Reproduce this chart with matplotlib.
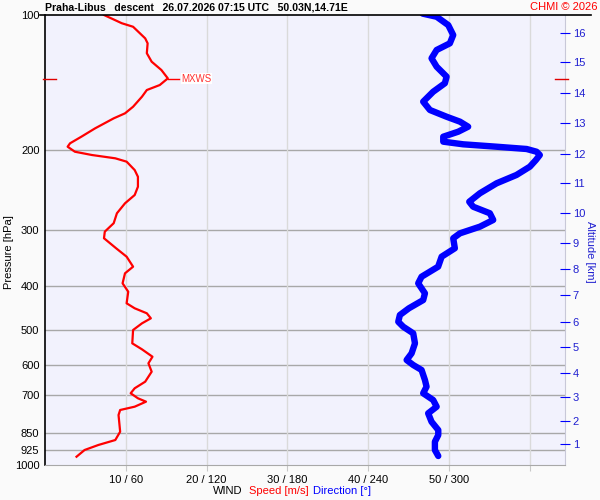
import matplotlib.pyplot as plt
import numpy as np
from matplotlib.lines import Line2D
from matplotlib.ticker import FixedLocator, NullLocator

plt.rcParams["font.family"] = ["Liberation Sans", "DejaVu Sans"]

# wind speed profile: pressure [hPa] and speed [m/s]
speed_p = [100, 104.3, 106.2, 112.7, 115.6, 121.6, 127.0, 132.5, 138.3, 143.1,
           146.8, 151.9, 159.9, 165.4, 169.7, 178.6, 186.4, 192.8, 196.2, 201.3,
           204.7, 208.2, 211.8, 221.1, 228.8, 240.8, 251.2, 262.1, 275.8, 290.2,
           303.0, 313.4, 329.9, 344.4, 362.5, 375.0, 394.7, 412.0, 437.2, 448.5,
           460.1, 472.1, 484.4, 501.2, 536.6, 553.3, 574.6, 594.3, 620.4, 652.9,
           675.3, 692.8, 710.8, 723.2, 742.0, 754.7, 774.3, 807.9, 843.4, 880.0,
           902.7, 926.1, 958.5]
speed = [7.3, 9.5, 10.9, 12.4, 12.7, 12.6, 13.2, 14.4, 15.2, 14.2,
         12.6, 12.0, 10.9, 9.9, 8.5, 6.2, 4.5, 3.1, 2.8, 3.7,
         5.8, 8.7, 10.1, 11.1, 11.5, 11.5, 11.1, 9.9, 8.9, 8.5,
         7.4, 7.3, 8.8, 10.1, 10.9, 9.9, 9.6, 10.3, 10.1, 11.1,
         12.6, 13.1, 12.0, 10.9, 10.8, 12.0, 13.3, 12.8, 13.2, 12.4,
         11.1, 10.6, 11.5, 12.5, 11.1, 9.3, 9.1, 9.2, 9.3, 8.7,
         6.6, 4.9, 3.9]

# wind direction profile: pressure [hPa] and direction [deg]
dir_p = [99.3, 100.9, 105.3, 110.8, 115.6, 119.6, 124.8, 130.3, 137.1, 141.8,
         148.1, 155.8, 162.6, 168.3, 172.6, 177.1, 181.7, 186.4, 191.2, 193.8,
         196.2, 198.5, 201.3, 204.7, 210.0, 217.3, 226.7, 236.6, 249.0, 260.0,
         266.7, 275.8, 285.4, 295.4, 305.6, 313.4, 329.9, 344.4, 362.5, 381.6,
         394.7, 415.4, 430.0, 448.5, 464.2, 480.5, 492.9, 509.8, 536.6, 564.8,
         584.4, 599.5, 615.0, 647.3, 669.8, 692.8, 717.0, 742.0, 767.6, 801.4,
         836.2, 857.9, 887.7, 926.1, 955.0]
direction = [280.4, 290.8, 299.4, 303.1, 300.6, 290.8, 287.0, 290.8, 298.2, 296.9,
             288.2, 280.8, 285.8, 298.2, 308.1, 314.2, 306.8, 295.7, 295.7, 310.5,
             335.3, 357.6, 365.0, 367.4, 364.5, 360.0, 350.1, 335.3, 322.9, 315.0,
             317.9, 330.3, 332.8, 322.9, 308.1, 303.1, 304.3, 294.5, 291.9, 279.6,
             277.1, 282.1, 280.8, 270.2, 263.5, 262.3, 266.0, 273.4, 274.7, 272.2,
             268.5, 273.4, 279.6, 282.1, 283.3, 280.8, 288.2, 290.8, 284.5, 287.0,
             292.0, 292.0, 289.5, 289.5, 292.0]

pressure_ticks = [100, 200, 300, 400, 500, 600, 700, 850, 925, 1000]
alt_km = [1, 2, 3, 4, 5, 6, 7, 8, 9, 10, 11, 12, 13, 14, 15, 16]
alt_p = [898, 798.5, 706.3, 624.5, 546.8, 481, 419, 366.8, 321, 275.4,
         236.3, 203.6, 173.8, 149, 127.2, 109.6]
speed_ticks = [10, 20, 30, 40, 50, 60]
speed_labels = ["10 / 60", "20 / 120", "30 / 180", "40 / 240", "50 / 300", ""]
mxws_p = 138.5
mxws_speed = 15.2

fs = 8

fig = plt.figure(figsize=(6, 5), dpi=100, facecolor="#fafafa")
ax = fig.add_axes([45 / 600, 35 / 500, 520 / 600, 450 / 500], facecolor="#f2f2fd")

ax.set_yscale("log")
ax.set_ylim(1000, 100)
ax.set_xlim(0, 64.35)

# grid
for p in pressure_ticks[1:-1]:
    ax.axhline(p, color="#a8a8a8", lw=1, zorder=1)
for s in speed_ticks:
    ax.axvline(s, color="#dadada", lw=1, zorder=1)

ax.plot(np.array(direction) / 6, dir_p, color="#0000ff", lw=4.6,
        solid_capstyle="round", solid_joinstyle="round", zorder=3)
ax.plot(speed, speed_p, color="#ff0000", lw=1.6, zorder=4)

# maximum wind marker
ax.plot([mxws_speed, mxws_speed + 1.4], [mxws_p, mxws_p], color="#ff0000", lw=1, zorder=4)
ax.text(mxws_speed + 1.7, mxws_p, "MXWS", color="#ff3030", fontsize=7, va="center",
        bbox=dict(facecolor="white", edgecolor="none", pad=0.5), zorder=5)
ax.plot([-0.25, 1.4], [mxws_p, mxws_p], color="#e00000", lw=1, clip_on=False, zorder=5)
ax.plot([63.1, 64.7], [mxws_p, mxws_p], color="#e00000", lw=1, clip_on=False, zorder=5)

ax.yaxis.set_major_locator(FixedLocator(pressure_ticks))
ax.yaxis.set_minor_locator(NullLocator())
ax.set_yticklabels([str(p) for p in pressure_ticks])
ax.set_xticks(speed_ticks)
ax.set_xticklabels(speed_labels)
ax.tick_params(axis="y", length=0, labelsize=fs, pad=4)
ax.tick_params(axis="x", length=4, color="#c8c8c8", labelsize=fs, pad=3)

ax.spines["left"].set_color("black")
ax.spines["left"].set_linewidth(1.2)
ax.spines["top"].set_visible(False)
ax.spines["right"].set_color("#c8c8d8")
ax.spines["bottom"].set_color("#a8a8a8")

# altitude axis
ax2 = ax.twinx()
ax2.set_yscale("log")
ax2.set_ylim(1000, 100)
ax2.yaxis.set_major_locator(FixedLocator(alt_p))
ax2.yaxis.set_minor_locator(NullLocator())
ax2.set_yticklabels([str(a) for a in alt_km])
ax2.tick_params(axis="y", direction="inout", length=7, color="#0000ff",
                labelcolor="#2020d0", labelsize=fs, pad=2)
for sp in ax2.spines.values():
    sp.set_visible(False)

# axis titles
fig.text(9 / 600, 1 - 252 / 500, "Pressure [hPa]", rotation=90, fontsize=fs,
         ha="center", va="center")
fig.text(590 / 600, 1 - 252 / 500, "Altitude [km]", rotation=270, fontsize=fs,
         color="#2020d0", ha="center", va="center")

# top line and header
fig.add_artist(Line2D([40 / 600, 591 / 600], [1 - 15 / 500] * 2, color="black", lw=1.2))
fig.text(45 / 600, 1 - 7 / 500, "Praha-Libus   descent   26.07.2026 07:15 UTC   50.03N,14.71E",
         fontsize=7.6, fontweight="bold", va="center", ha="left")
fig.text(597 / 600, 1 - 7 / 500, "CHMI © 2026", color="#ff0000", fontsize=fs,
         va="center", ha="right")

# bottom legend text
fig.text(213 / 600, 1 - 491 / 500, "WIND", fontsize=fs, va="center")
fig.text(249 / 600, 1 - 491 / 500, "Speed [m/s]", color="#ff0000", fontsize=fs, va="center")
fig.text(313 / 600, 1 - 491 / 500, "Direction [°]", color="#0000ff", fontsize=fs, va="center")

fig.savefig("out.png", dpi=100, facecolor=fig.get_facecolor())
